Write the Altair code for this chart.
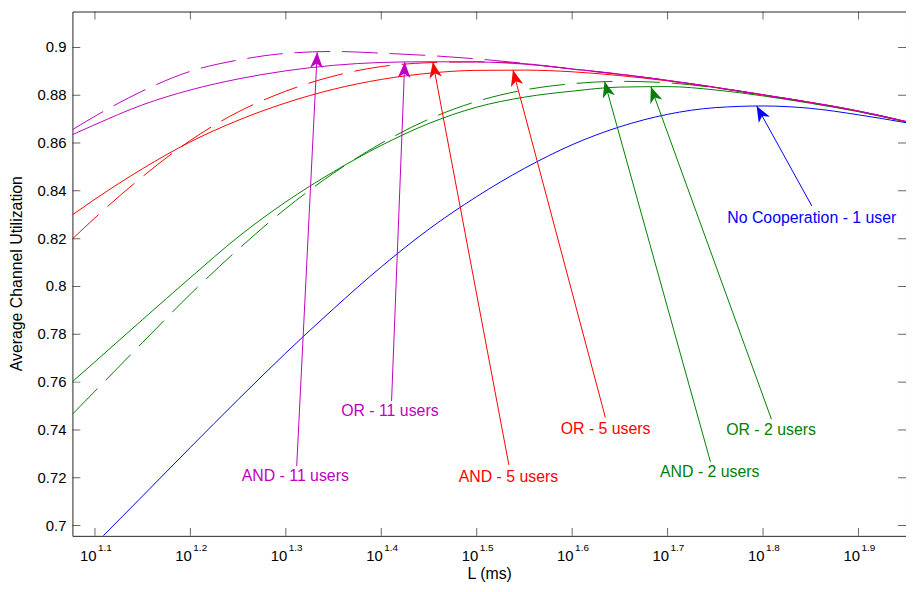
import math
import altair as alt
import pandas as pd

# ---------------- data ----------------
# x positions are exponents of L (ms): L = 10**exp
EXP_GRID = [1.0764, 1.10, 1.15, 1.20, 1.25, 1.30, 1.35, 1.40, 1.45, 1.50,
            1.55, 1.60, 1.65, 1.70, 1.75, 1.80, 1.85, 1.90, 1.95]

AND_11 = [0.8656, 0.8712, 0.8818, 0.8900, 0.8947, 0.8975, 0.8983, 0.8976, 0.8966, 0.8952,
          0.8933, 0.8910, 0.8888, 0.8862, 0.8833, 0.8802, 0.8770, 0.8734, 0.8690]
OR_11 = [0.8635, 0.8677, 0.8760, 0.8822, 0.8868, 0.8902, 0.8925, 0.8937, 0.8940, 0.8939,
         0.8930, 0.8910, 0.8888, 0.8862, 0.8833, 0.8802, 0.8770, 0.8734, 0.8690]
AND_5 = [0.8199, 0.8287, 0.8460, 0.8611, 0.8730, 0.8817, 0.8880, 0.8920, 0.8936, 0.8940,
         0.8932, 0.8909, 0.8887, 0.8862, 0.8833, 0.8802, 0.8770, 0.8734, 0.8690]
OR_5 = [0.8300, 0.8365, 0.8493, 0.8605, 0.8695, 0.8768, 0.8825, 0.8866, 0.8892, 0.8904,
        0.8905, 0.8898, 0.8882, 0.8860, 0.8832, 0.8801, 0.8769, 0.8733, 0.8689]
AND_2 = [0.7466, 0.7562, 0.7766, 0.7968, 0.8155, 0.8326, 0.8474, 0.8599, 0.8700, 0.8774,
         0.8822, 0.8848, 0.8858, 0.8852, 0.8831, 0.8800, 0.8768, 0.8732, 0.8689]
OR_2 = [0.7602, 0.7685, 0.7862, 0.8037, 0.8207, 0.8354, 0.8480, 0.8590, 0.8682, 0.8750,
        0.8792, 0.8817, 0.8834, 0.8836, 0.8822, 0.8797, 0.8766, 0.8731, 0.8688]

EXP_BLUE = [1.1086, 1.15, 1.20, 1.25, 1.30, 1.35, 1.40, 1.45, 1.50, 1.55,
            1.60, 1.65, 1.70, 1.75, 1.80, 1.85, 1.90, 1.95]
NO_COOP = [0.6957, 0.7124, 0.7327, 0.7527, 0.7722, 0.7907, 0.8082, 0.8240, 0.8376, 0.8494,
           0.8593, 0.8668, 0.8720, 0.8748, 0.8755, 0.8745, 0.8718, 0.8685]

# annotations
LABELS = ["No Cooperation - 1 user", "OR - 2 users", "AND - 2 users", "OR - 5 users",
          "AND - 5 users", "OR - 11 users", "AND - 11 users"]
LABEL_COLORS = ["#0000FF", "#008000", "#008000", "#FF0000", "#FF0000", "#BF00BF", "#BF00BF"]
TIP_EXP = [1.7933, 1.6825, 1.6340, 1.5380, 1.4540, 1.4246, 1.3329]
TIP_Y = [0.8755, 0.8835, 0.8857, 0.8905, 0.8939, 0.8939, 0.8980]
TAIL_EXP = [1.8511, 1.8088, 1.7449, 1.6348, 1.5337, 1.4108, 1.3114]
TAIL_Y = [0.8337, 0.7445, 0.7267, 0.7452, 0.7254, 0.7521, 0.7249]
TEXT_EXP = [1.8511, 1.8084, 1.7442, 1.6351, 1.5333, 1.4090, 1.3099]
TEXT_Y = [0.8288, 0.7400, 0.7224, 0.7404, 0.7202, 0.7480, 0.7208]

X_TICK_EXP = [1.1, 1.2, 1.3, 1.4, 1.5, 1.6, 1.7, 1.8, 1.9]
Y_TICKS = [0.70, 0.72, 0.74, 0.76, 0.78, 0.80, 0.82, 0.84, 0.86, 0.88, 0.90]
Y_TICK_LABELS = ["0.7", "0.72", "0.74", "0.76", "0.78", "0.8", "0.82", "0.84", "0.86",
                 "0.88", "0.9"]

X_MIN_EXP, X_MAX_EXP = 1.0764, 1.9498
Y_MIN, Y_MAX = 0.6957, 0.915

# ---------------- layout / style ----------------
W, H = 841, 529
FONT = "Liberation Sans"
BLUE, GREEN, RED, MAG = "#0000FF", "#008000", "#FF0000", "#BF00BF"
DASH = [36, 12]
TICK_COL = "#262626"


def L(e):
    return 10 ** e


xscale = alt.Scale(type="log", domain=[L(X_MIN_EXP), L(X_MAX_EXP)], nice=False)
yscale = alt.Scale(domain=[Y_MIN, Y_MAX], nice=False, zero=False)

x_ticks_L = [L(e) for e in X_TICK_EXP]

x_axis_main = alt.Axis(
    values=x_ticks_L, labelExpr="'10'", ticks=False, tickSize=0, domain=False, grid=False,
    labelAlign="right", labelOffset=1, labelBaseline="alphabetic", labelPadding=25,
    labelFontSize=15, labelFont=FONT, labelColor="black", labelFlush=False,
    labelOverlap=False, orient="bottom",
    title="L (ms)", titleFont=FONT, titleFontSize=16, titleFontWeight="normal",
    titleColor="black", titleBaseline="alphabetic", titleY=43,
)
x_axis_exp = alt.Axis(
    values=x_ticks_L, labelExpr="format(log(datum.value)/LN10, '.1f')", orient="bottom",
    ticks=False, tickSize=0, domain=False, grid=False,
    labelAlign="left", labelOffset=2.5, labelBaseline="alphabetic", labelPadding=15,
    labelFontSize=10, labelFont=FONT, labelColor="black", labelFlush=False,
    labelOverlap=False, title="",
)

# ---------------- curves ----------------
series = [
    ("No Cooperation - 1 user", EXP_BLUE, NO_COOP, BLUE, False),
    ("OR - 2 users", EXP_GRID, OR_2, GREEN, False),
    ("AND - 2 users", EXP_GRID, AND_2, GREEN, True),
    ("OR - 5 users", EXP_GRID, OR_5, RED, False),
    ("AND - 5 users", EXP_GRID, AND_5, RED, True),
    ("OR - 11 users", EXP_GRID, OR_11, MAG, False),
    ("AND - 11 users", EXP_GRID, AND_11, MAG, True),
]

layers = []
for i, (name, ex, ys, col, dashed) in enumerate(series):
    df = pd.DataFrame({"L": [L(e) for e in ex], "y": ys, "series": name})
    kw = dict(color=col, strokeWidth=1, clip=True, interpolate="monotone")
    if dashed:
        kw["strokeDash"] = DASH
    ch = alt.Chart(df).mark_line(**kw).encode(
        x=alt.X("L:Q", scale=xscale, axis=x_axis_main if i == 0 else None),
        y=alt.Y("y:Q", scale=yscale, axis=None),
    )
    layers.append(ch)

# ---------------- arrows & labels ----------------
px_per_exp = W / (X_MAX_EXP - X_MIN_EXP)
px_per_y = H / (Y_MAX - Y_MIN)
angles = []
for te, ty, ae, ay in zip(TIP_EXP, TIP_Y, TAIL_EXP, TAIL_Y):
    dx = (te - ae) * px_per_exp
    dy = -(ty - ay) * px_per_y
    angles.append(math.degrees(math.atan2(dx, -dy)) % 360)

ann = pd.DataFrame({
    "label": LABELS,
    "color": LABEL_COLORS,
    "tipL": [L(e) for e in TIP_EXP],
    "tipY": TIP_Y,
    "tailL": [L(e) for e in TAIL_EXP],
    "tailY": TAIL_Y,
    "textL": [L(e) for e in TEXT_EXP],
    "textY": TEXT_Y,
    "angle": angles,
})

rules = alt.Chart(ann).mark_rule(strokeWidth=1).encode(
    x=alt.X("tailL:Q", scale=xscale, axis=None),
    y=alt.Y("tailY:Q", scale=yscale, axis=None),
    x2="tipL:Q",
    y2="tipY:Q",
    color=alt.Color("color:N", scale=None),
)

ARROW = "M0,0 L-0.4,1 L0,0.72 L0.4,1 Z"
heads = alt.Chart(ann).mark_point(shape=ARROW, filled=True, opacity=1, size=1024,
                                  strokeWidth=0).encode(
    x=alt.X("tipL:Q", scale=xscale, axis=None),
    y=alt.Y("tipY:Q", scale=yscale, axis=None),
    angle=alt.Angle("angle:Q", scale=None),
    color=alt.Color("color:N", scale=None),
)

texts = alt.Chart(ann).mark_text(font=FONT, fontSize=16, align="center",
                                 baseline="middle").encode(
    x=alt.X("textL:Q", scale=xscale, axis=None),
    y=alt.Y("textY:Q", scale=yscale, axis=None),
    text="label:N",
    color=alt.Color("color:N", scale=None),
)

# ---------------- inward ticks on all four sides ----------------
xt = pd.DataFrame({"L": x_ticks_L})
yt = pd.DataFrame({"y": Y_TICKS, "lab": Y_TICK_LABELS})


def xtick(ypos):
    return alt.Chart(xt).mark_tick(orient="vertical", size=16, thickness=1, clip=True,
                                   color=TICK_COL).encode(
        x=alt.X("L:Q", scale=xscale, axis=None),
        y=alt.YDatum(ypos, scale=yscale, axis=None))


def ytick(xpos):
    return alt.Chart(yt).mark_tick(orient="horizontal", size=16, thickness=1, clip=True,
                                   color=TICK_COL).encode(
        y=alt.Y("y:Q", scale=yscale, axis=None),
        x=alt.XDatum(xpos, scale=xscale, axis=None))


# y tick labels (left side)
ylabels = alt.Chart(yt).mark_text(font=FONT, fontSize=15, align="right", baseline="middle",
                                  dx=-6, color="black").encode(
    y=alt.Y("y:Q", scale=yscale, axis=None),
    x=alt.XDatum(L(X_MIN_EXP), scale=xscale, axis=None),
    text="lab:N")

# invisible carrier of the exponent axis
exp_layer = alt.Chart(xt).mark_point(opacity=0).encode(
    x=alt.X("L:Q", scale=xscale, axis=x_axis_exp),
    y=alt.YDatum(Y_MIN, scale=yscale, axis=None))

chart = alt.layer(
    *layers, rules, heads, texts,
    xtick(Y_MIN), xtick(Y_MAX), ytick(L(X_MIN_EXP)), ytick(L(X_MAX_EXP)),
    ylabels, exp_layer,
).resolve_axis(x="independent").properties(
    width=W, height=H,
    padding={"left": 65, "right": 0, "top": 1, "bottom": 45},
    autosize=alt.AutoSizeParams(type="none"),
    background="white",
    title=alt.TitleParams(
        text="Average Channel Utilization", orient="left", anchor="middle",
        frame="group", offset=0, baseline="alphabetic",
        font=FONT, fontSize=16, fontWeight="normal", color="black",
    ),
).configure_view(stroke=TICK_COL, strokeWidth=1)

chart.save("out.html", embed_options={"renderer": "svg", "actions": False})
